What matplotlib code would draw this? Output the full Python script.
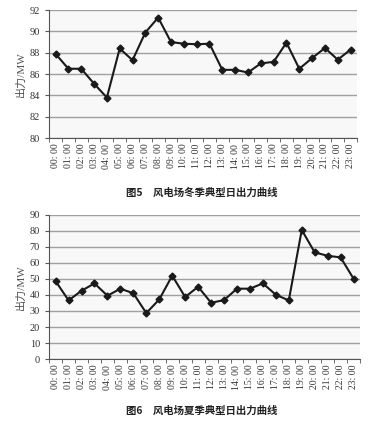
import matplotlib
matplotlib.use("Agg")
import matplotlib.pyplot as plt
import numpy as np

# hourly labels and output values (MW)
hours = ["%02d: 00" % h for h in range(24)]
winter = [87.9, 86.5, 86.5, 85.1, 83.8, 88.4, 87.3, 89.9, 91.3, 89.0, 88.85, 88.8,
          88.85, 86.4, 86.4, 86.15, 87.0, 87.15, 88.95, 86.5, 87.5, 88.45, 87.35, 88.3]
summer = [48.6, 36.6, 42.6, 47.2, 39.5, 43.9, 41.0, 28.7, 37.2, 52.0, 38.7, 45.1,
          35.1, 36.8, 43.9, 43.9, 47.2, 40.1, 36.6, 80.5, 66.5, 64.4, 63.4, 50.1]
winter_ticks = [80, 82, 84, 86, 88, 90, 92]
summer_ticks = [0, 10, 20, 30, 40, 50, 60, 70, 80, 90]

serif = ["Liberation Serif", "Noto Sans CJK SC"]
cjk = ["Noto Sans CJK SC", "DejaVu Sans"]

fig = plt.figure(figsize=(3.81, 4.21), dpi=100)
ax1 = fig.add_axes([0.129, 0.672, 0.808, 0.304])
ax2 = fig.add_axes([0.129, 0.147, 0.816, 0.343])


def style(ax, values, yticks):
    x = np.arange(len(values))
    ax.set_facecolor("#f8f8f8")
    ax.plot(x, values, color="#1a1a1a", lw=1.5, marker="D", ms=3.5, zorder=3)
    ax.set_xlim(-0.5, len(values) - 0.5)
    ax.set_ylim(yticks[0], yticks[-1])
    ax.set_yticks(yticks)
    ax.yaxis.grid(True, color="#a0a0a0", lw=1.0)
    ax.set_axisbelow(True)
    ax.set_xticks(x)
    ax.set_xticklabels(hours, rotation=90, family=serif, fontsize=7, color="#333333")
    ax.set_xticks(np.arange(-0.5, len(values)), minor=True)
    ax.tick_params(axis="x", which="major", length=0, pad=4)
    ax.tick_params(axis="x", which="minor", length=3, color="#555555")
    ax.tick_params(axis="y", length=3, color="#555555", labelsize=7.5, labelcolor="#333333")
    for lab in ax.get_yticklabels():
        lab.set_family(serif)
    for s in ["top", "right"]:
        ax.spines[s].set_visible(False)
    for s in ["left", "bottom"]:
        ax.spines[s].set_color("#555555")
        ax.spines[s].set_linewidth(0.8)
    ax.set_ylabel("出力/MW", family=serif, fontsize=8, color="#555555", labelpad=3)


style(ax1, winter, winter_ticks)
style(ax2, summer, summer_ticks)

fig.text(0.53, 0.542, "图5　风电场冬季典型日出力曲线", ha="center", va="center",
         family=cjk, fontsize=7.5, fontweight="bold", color="#222222")
fig.text(0.53, 0.024, "图6　风电场夏季典型日出力曲线", ha="center", va="center",
         family=cjk, fontsize=7.5, fontweight="bold", color="#222222")

fig.savefig("out.png", dpi=100)
